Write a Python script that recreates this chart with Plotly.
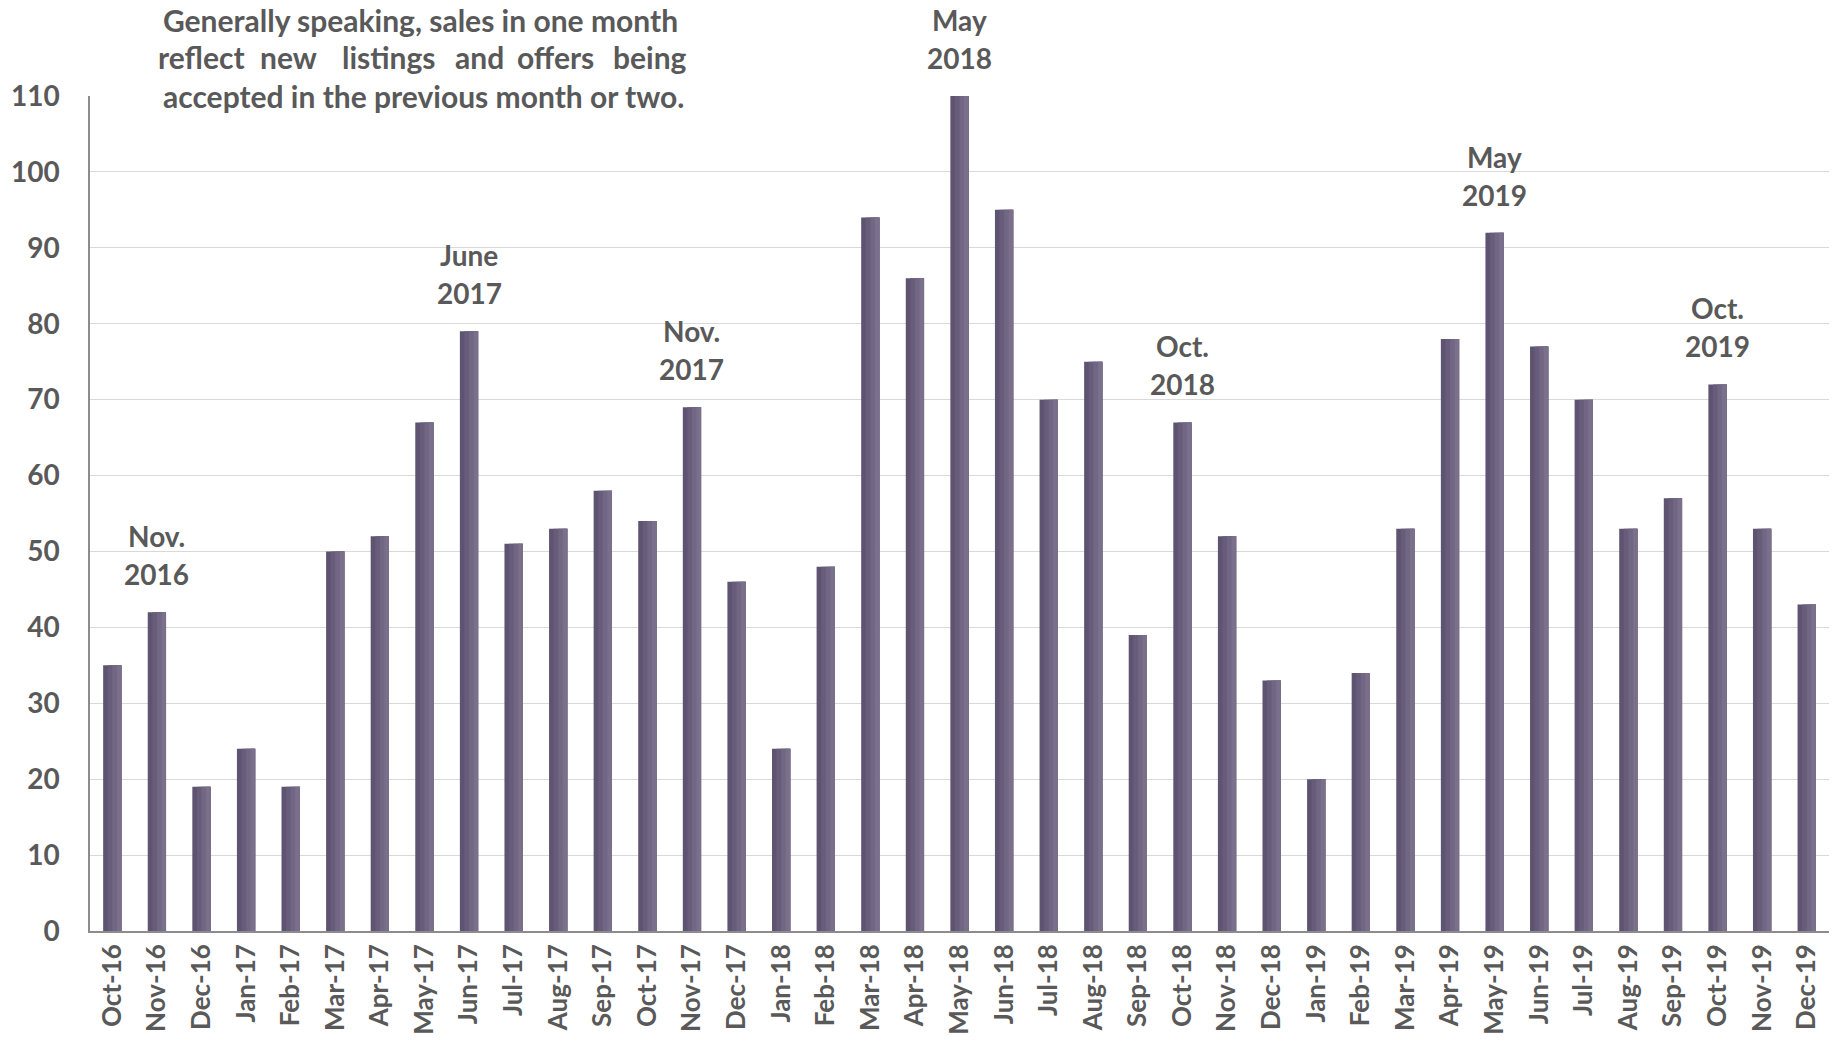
import plotly.graph_objects as go

months = ["Oct-16", "Nov-16", "Dec-16", "Jan-17", "Feb-17", "Mar-17", "Apr-17", "May-17",
          "Jun-17", "Jul-17", "Aug-17", "Sep-17", "Oct-17", "Nov-17", "Dec-17", "Jan-18",
          "Feb-18", "Mar-18", "Apr-18", "May-18", "Jun-18", "Jul-18", "Aug-18", "Sep-18",
          "Oct-18", "Nov-18", "Dec-18", "Jan-19", "Feb-19", "Mar-19", "Apr-19", "May-19",
          "Jun-19", "Jul-19", "Aug-19", "Sep-19", "Oct-19", "Nov-19", "Dec-19"]
sales = [35, 42, 19, 24, 19, 50, 52, 67, 79, 51, 53, 58, 54, 69, 46, 24, 48, 94, 86, 110,
         95, 70, 75, 39, 67, 52, 33, 20, 34, 53, 78, 92, 77, 70, 53, 57, 72, 53, 43]

ann_months = ["Nov-16", "Jun-17", "Nov-17", "May-18", "Oct-18", "May-19", "Oct-19"]
ann_line1 = ["Nov.", "June", "Nov.", "May", "Oct.", "May", "Oct."]
ann_line2 = ["2016", "2017", "2017", "2018", "2018", "2019", "2019"]

note_line1 = "Generally speaking, sales in one month"
note_line2_words = ["reflect", "new", "listings", "and", "offers", "being"]
note_line3 = "accepted in the previous month or two."

W, H = 1835, 1042
ML, MR, MT, MB = 90, 6, 96, 111
PW, PH = W - ML - MR, H - MT - MB


def px_x(px):
    return (px - ML) / PW


def px_y(py):
    return (H - MB - py) / PH


TXT = "#595959"
FONT = dict(family="Lato", size=26, color=TXT, weight="bold")

# layered bars to imitate the left-to-right shading of the original bars
BAR_W = 0.41
layers = [(0.0, "#5e5471"), (0.25, "#675d7a"), (0.5, "#716683"), (0.75, "#7b708c")]

fig = go.Figure()
for frac, c in layers:
    fig.add_trace(go.Bar(x=months, y=sales, width=BAR_W * (1 - frac),
                         offset=-BAR_W / 2 + BAR_W * frac,
                         marker=dict(color=c, line=dict(width=0)),
                         showlegend=False, hoverinfo="x+y"))

annotations = []
for m, l1, l2 in zip(ann_months, ann_line1, ann_line2):
    v = sales[months.index(m)]
    annotations.append(dict(x=m, y=v, xref="x", yref="y", text=l1, showarrow=False,
                            yanchor="middle", yshift=76, font=dict(FONT, size=28)))
    annotations.append(dict(x=m, y=v, xref="x", yref="y", text=l2, showarrow=False,
                            yanchor="middle", yshift=38, font=dict(FONT, size=28)))

# note text box (justified lines)
NOTE_FONT = dict(FONT, size=30)
annotations.append(dict(x=px_x(161), y=px_y(20), xref="paper", yref="paper", text=note_line1,
                        showarrow=False, xanchor="left", yanchor="middle", font=NOTE_FONT))
word_centers = [201, 288.5, 389, 479.5, 555, 649.5]
for wtxt, cx in zip(note_line2_words, word_centers):
    annotations.append(dict(x=px_x(cx), y=px_y(57), xref="paper", yref="paper", text=wtxt,
                            showarrow=False, xanchor="center", yanchor="middle", font=NOTE_FONT))
annotations.append(dict(x=px_x(161), y=px_y(96), xref="paper", yref="paper", text=note_line3,
                        showarrow=False, xanchor="left", yanchor="middle", font=NOTE_FONT))

shapes = [dict(type="rect", xref="paper", yref="paper", x0=px_x(143), x1=px_x(710),
               y0=px_y(104), y1=px_y(88), fillcolor="white", line=dict(width=0), layer="above")]

fig.update_layout(
    width=W, height=H,
    margin=dict(l=ML, r=MR, t=MT, b=MB, pad=0),
    paper_bgcolor="white", plot_bgcolor="white",
    barmode="overlay",
    font=FONT,
    annotations=annotations,
    shapes=shapes,
    xaxis=dict(type="category", tickangle=-90, showline=True, linecolor="#8c8c8c", linewidth=1.5,
               showgrid=False, ticks="", tickfont=dict(FONT, size=26), ticklabelstandoff=1,
               range=[-0.5, len(months) - 0.5], fixedrange=True, automargin=False),
    yaxis=dict(range=[0, 110], dtick=10, showgrid=True, gridcolor="#d9d9d9", gridwidth=1.3,
               showline=True, linecolor="#8c8c8c", linewidth=1.5, zeroline=False, ticks="",
               tickfont=dict(FONT, size=28), ticklabelstandoff=23, fixedrange=True,
               automargin=False),
)

fig.write_html("out.html", config={"displayModeBar": False},
               post_script="document.body.style.margin='0';")
